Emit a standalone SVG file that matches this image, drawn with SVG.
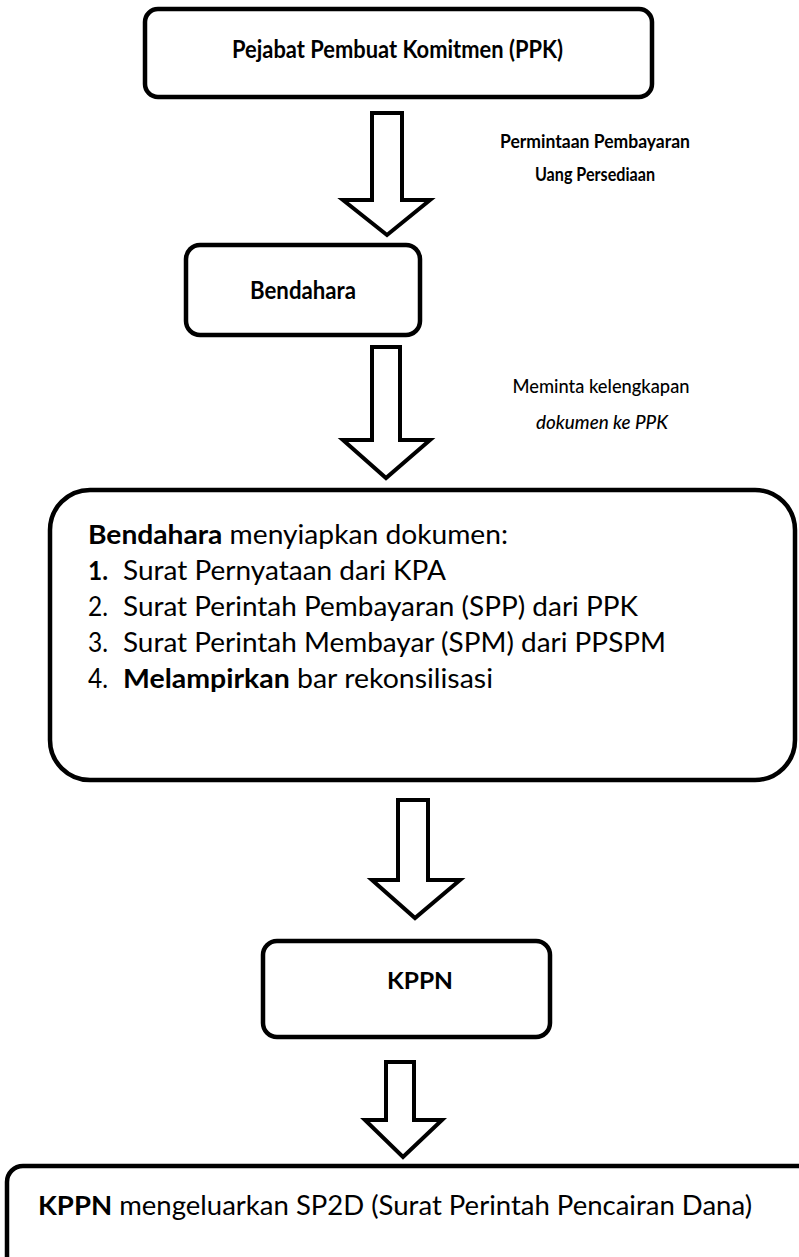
<svg xmlns="http://www.w3.org/2000/svg" width="799" height="1257" viewBox="0 0 799 1257">
<style>
.box{fill:#fff;stroke:#000;stroke-width:4.5}
.arr{fill:#fff;stroke:#000;stroke-width:4;stroke-linejoin:miter}
text{font-family:Lato,"Liberation Sans",sans-serif;fill:#000}
.b{font-weight:bold}
.lbl{font-size:19px;font-weight:bold;text-anchor:middle}
.body{font-size:26px}
</style>
<rect width="799" height="1257" fill="#fff"/>
<g id="connectors">
  <polygon class="arr" points="372,113 402,113 402,200 430,200 387,235 343,200 372,200"/>
  <polygon class="arr" points="372,347 400,347 400,440 430,440 386,478 343,440 372,440"/>
  <polygon class="arr" points="398,800 428,800 428,880 460,880 415,918 372,880 398,880"/>
  <polygon class="arr" points="386,1062 414,1062 414,1120 442,1120 403,1157 365,1120 386,1120"/>
</g>
<g id="label-permintaan">
  <text class="lbl" x="595" y="148" textLength="190" lengthAdjust="spacingAndGlyphs">Permintaan Pembayaran</text>
  <text class="lbl" x="595" y="181" textLength="120" lengthAdjust="spacingAndGlyphs">Uang Persediaan</text>
</g>
<g id="label-meminta">
  <text class="lbl" x="601" y="393" textLength="177" lengthAdjust="spacingAndGlyphs" style="font-weight:500">Meminta kelengkapan</text>
  <text class="lbl" x="602" y="429" textLength="132" lengthAdjust="spacingAndGlyphs" style="font-weight:500;font-style:italic">dokumen ke PPK</text>
</g>
<g id="node-ppk">
  <rect class="box" x="145" y="9" width="507" height="88" rx="13"/>
  <text class="b" x="232" y="58" font-size="25" textLength="331" lengthAdjust="spacingAndGlyphs">Pejabat Pembuat Komitmen (PPK)</text>
</g>
<g id="node-bendahara">
  <rect class="box" x="186" y="245" width="234" height="90" rx="14"/>
  <text class="b" x="250" y="299" font-size="24" textLength="106" lengthAdjust="spacingAndGlyphs">Bendahara</text>
</g>
<g id="node-dokumen">
  <rect class="box" x="50" y="490" width="745" height="290" rx="40"/>
  <text class="body" x="88" y="544" textLength="420" lengthAdjust="spacingAndGlyphs"><tspan class="b">Bendahara</tspan> menyiapkan dokumen:</text>
  <text class="body b" x="88" y="580" textLength="20" lengthAdjust="spacingAndGlyphs">1.</text>
  <text class="body" x="123" y="580" textLength="323" lengthAdjust="spacingAndGlyphs">Surat Pernyataan dari KPA</text>
  <text class="body" x="88" y="616" textLength="20" lengthAdjust="spacingAndGlyphs">2.</text>
  <text class="body" x="123" y="616" textLength="515" lengthAdjust="spacingAndGlyphs">Surat Perintah Pembayaran (SPP) dari PPK</text>
  <text class="body" x="88" y="652" textLength="20" lengthAdjust="spacingAndGlyphs">3.</text>
  <text class="body" x="123" y="652" textLength="543" lengthAdjust="spacingAndGlyphs">Surat Perintah Membayar (SPM) dari PPSPM</text>
  <text class="body" x="88" y="688" textLength="20" lengthAdjust="spacingAndGlyphs">4.</text>
  <text class="body" x="123" y="688" textLength="370" lengthAdjust="spacingAndGlyphs"><tspan class="b">Melampirkan</tspan> bar rekonsilisasi</text>
</g>
<g id="node-kppn">
  <rect class="box" x="263" y="941" width="287" height="96" rx="14"/>
  <text class="b" x="387" y="989" font-size="23" textLength="66" lengthAdjust="spacingAndGlyphs">KPPN</text>
</g>
<g id="node-sp2d">
  <rect class="box" x="7" y="1166" width="810" height="120" rx="16"/>
  <text class="body" x="38" y="1215" textLength="714" lengthAdjust="spacingAndGlyphs"><tspan class="b">KPPN</tspan> mengeluarkan SP2D (Surat Perintah Pencairan Dana)</text>
</g>
</svg>
